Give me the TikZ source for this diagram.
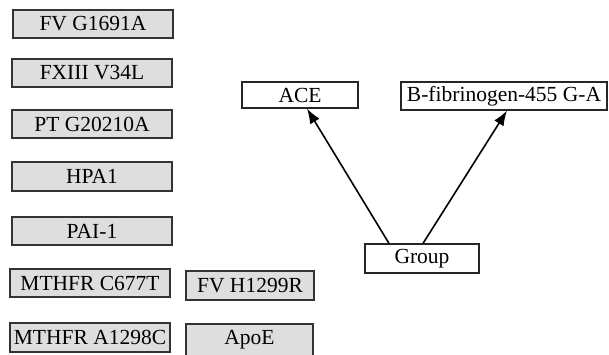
\documentclass[tikz,border=0pt]{standalone}
\usepackage{fontspec}
\setmainfont{Liberation Serif}
\usetikzlibrary{arrows.meta,calc}
\begin{document}
\begin{tikzpicture}[x=1pt,y=-1pt,
  gbox/.style={draw=black!80, line width=1.2pt, fill=black!13, inner sep=0pt, font=\fontsize{21.5}{21.5}\selectfont, minimum height=28pt},
  wbox/.style={draw=black!85, line width=1.2pt, fill=white, inner sep=0pt, font=\fontsize{21.5}{21.5}\selectfont, minimum height=28pt},
  conn/.style={line width=1.6pt, -{Latex[length=15pt,width=11pt]}}]
\useasboundingbox (0,0) rectangle (609,354);
\node[gbox, minimum width=160pt] (fv) at (93,24) {FV G1691A};
\node[gbox, minimum width=160pt] (fxiii) at (92,73) {FXIII V34L};
\node[gbox, minimum width=160pt] (pt) at (92,124) {PT G20210A};
\node[gbox, minimum width=160pt, minimum height=29pt] (hpa) at (92,176.5) {HPA1};
\node[gbox, minimum width=160pt] (pai) at (92,231) {PAI-1};
\node[gbox, minimum width=160pt] (mc) at (90,283) {MTHFR C677T};
\node[gbox, minimum width=128pt, minimum height=29pt] (fvh) at (250,285.5) {FV H1299R};
\node[gbox, minimum width=160pt, minimum height=29pt] (ma) at (90,337.5) {MTHFR A1298C};
\node[gbox, minimum width=127pt, minimum height=32pt] (apo) at (249.5,340) {ApoE};
\node[wbox, minimum width=116pt, minimum height=26pt] (ace) at (300,95) {ACE};
\node[wbox, minimum width=206pt] (bf) at (504,96) {B-fibrinogen-455 G-A};
\node[wbox, minimum width=114pt, minimum height=29pt] (grp) at (422,258.5) {Group};
\draw[conn] ([xshift=-33pt]grp.north) -- ([xshift=7pt]ace.south);
\draw[conn] ([xshift=1pt]grp.north) -- ([xshift=3pt]bf.south);
\end{tikzpicture}
\end{document}
